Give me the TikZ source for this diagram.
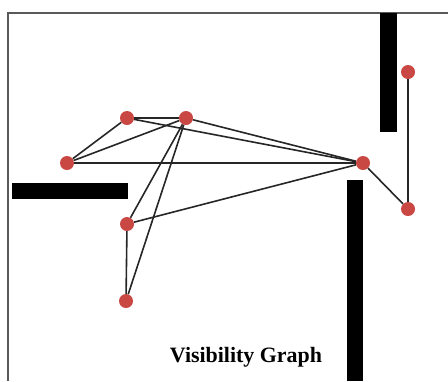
\documentclass[tikz,border=0pt]{standalone}
\usepackage{fontspec}
\setmainfont{Liberation Serif}
\usepackage{tikz}
\definecolor{ptred}{RGB}{201,72,68}

\begin{document}
\begin{tikzpicture}[
  x=1bp, y=-1bp,
  pt/.style={circle, fill=ptred, inner sep=0pt, minimum size=14bp},
  wall/.style={fill=black},
  edg/.style={line width=1.6bp, black!85}]
\useasboundingbox (0,0) rectangle (448,381);
% frame and obstacles
\draw[line width=1.6bp, black!65] (8,381) -- (8,13) -- (448,13);
\fill[wall] (380,13) rectangle (397,132);
\fill[wall] (12,183) rectangle (128,199);
\fill[wall] (347,180) rectangle (363,381);
% vertices
\node[pt] (a) at (127,118) {};
\node[pt] (b) at (186,118) {};
\node[pt] (c) at (67,163) {};
\node[pt] (d) at (363,163) {};
\node[pt] (e) at (408,72) {};
\node[pt] (f) at (408,209) {};
\node[pt] (g) at (127,224) {};
\node[pt] (h) at (126,301) {};
\foreach \x/\y in {a/b,a/c,b/c,c/d,a/d,b/d,b/g,b/h,g/d,g/h,d/f,e/f} \draw[edg] (\x) -- (\y);
\node[font=\bfseries\fontsize{22}{26}\selectfont] (title) at (246,357) {Visibility Graph};
\end{tikzpicture}
\end{document}
